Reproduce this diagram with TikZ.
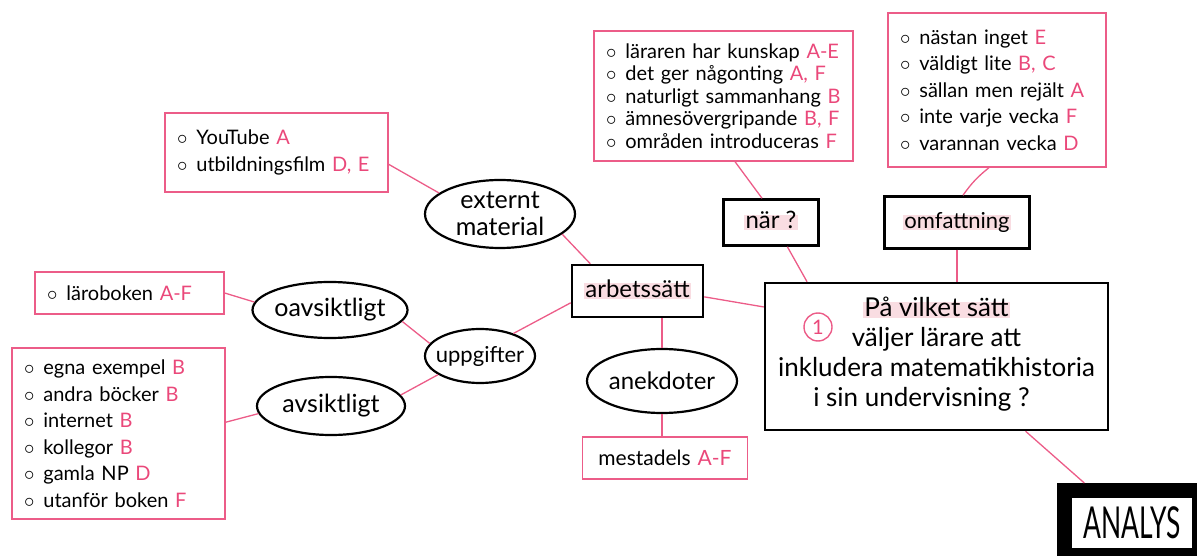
\documentclass[tikz,border=0pt]{standalone}
\usepackage{fontspec}
\setmainfont{Lato}
\usepackage{graphicx}
\usetikzlibrary{shapes.geometric}
\definecolor{linkpink}{RGB}{236,92,136}
\definecolor{markpink}{RGB}{234,72,122}
\definecolor{hlpink}{RGB}{249,221,226}
\newcommand{\mk}[1]{\textcolor{markpink}{#1}}
\newcommand{\itm}{$\circ$\hspace{0.45em}}
\newcommand{\hlmark}[1]{{\setlength{\fboxsep}{1.5pt}\colorbox{hlpink}{\smash{#1}\vphantom{x}}}}

\begin{document}
\begin{tikzpicture}[x=1pt,y=-1pt,
  listbox/.style={draw=linkpink, line width=1.3pt, align=left, inner xsep=12pt,
    font=\fontsize{20}{26.5}\selectfont},
  topic/.style={ellipse, draw, line width=2.2pt, align=center, inner xsep=-8pt,
    inner ysep=-4pt, font=\fontsize{25}{27}\selectfont},
  headbox/.style={draw, line width=2.5pt, font=\fontsize{24}{26}\selectfont},
  link/.style={linkpink, line width=1.3pt}]
\useasboundingbox (0,0) rectangle (1197,556);

\node[listbox, text width=199pt, minimum height=79pt] (yt) at (276.5,152.5)
  {\itm YouTube \mk{A}\\ \itm utbildningsfilm \mk{D, E}};
\node[listbox, text width=235pt, minimum height=130pt,
  font=\fontsize{20}{22.5}\selectfont] (kunskap) at (723.5,96)
  {\itm läraren har kunskap \mk{A-E}\\
   \itm det ger någonting \mk{A, F}\\
   \itm naturligt sammanhang \mk{B}\\
   \itm ämnesövergripande \mk{B, F}\\
   \itm områden introduceras \mk{F}};
\node[listbox, text width=194pt, minimum height=154pt] (omfang) at (997,90)
  {\itm nästan inget \mk{E}\\
   \itm väldigt lite \mk{B, C}\\
   \itm sällan men rejält \mk{A}\\
   \itm inte varje vecka \mk{F}\\
   \itm varannan vecka \mk{D}};
\node[listbox, text width=165pt, minimum height=42pt] (laro) at (129.5,293)
  {\itm läroboken \mk{A-F}};
\node[listbox, text width=189pt, minimum height=171pt] (kallor) at (118.5,433.5)
  {\itm egna exempel \mk{B}\\
   \itm andra böcker \mk{B}\\
   \itm internet \mk{B}\\
   \itm kollegor \mk{B}\\
   \itm gamla NP \mk{D}\\
   \itm utanför boken \mk{F}};
\node[listbox, align=center, text width=141pt, minimum height=42pt,
  font=\fontsize{21}{26}\selectfont] (mest) at (665,458) {mestadels \mk{A-F}};

\node[topic, minimum width=150pt, minimum height=68pt] (ext) at (500,214) {externt\\material};
\node[topic, minimum width=110pt, minimum height=54pt, font=\fontsize{22}{24}\selectfont] (uppg) at (480,356) {uppgifter};
\node[topic, minimum width=155pt, minimum height=56pt] (oavs) at (330,310) {oavsiktligt};
\node[topic, minimum width=148pt, minimum height=58pt] (avs) at (331,406) {avsiktligt};
\node[topic, minimum width=150pt, minimum height=64pt, font=\fontsize{24}{26}\selectfont] (anek) at (662,381) {anekdoter};

\node[headbox, minimum width=131pt, minimum height=52pt] (arb) at (637.5,291) {\hlmark{arbetssätt}};
\node[headbox, minimum width=95pt, minimum height=46pt] (nar) at (771,222.5) {\hlmark{när ?}};
\node[headbox, minimum width=145pt, minimum height=52pt, font=\fontsize{22}{26}\selectfont] (omf) at (957,222.5) {\hlmark{omfattning}};
\node[headbox, align=center, minimum width=343pt, minimum height=147pt,
  font=\fontsize{26}{30}\selectfont] (fraga) at (936.5,356.5)
  {\hlmark{På vilket sätt}\\väljer lärare att\\inkludera matematikhistoria\\i sin undervisning ?\hspace*{30pt}};
\node[circle, draw=linkpink, text=markpink, line width=1.4pt, minimum size=28pt,
  inner sep=0pt, font=\fontsize{20}{20}\selectfont] (nr) at (818,327) {1};
\node[draw, line width=15pt, fill=white, minimum width=135pt, minimum height=65pt,
  font=\fontsize{44}{44}\selectfont] (analys) at (1132,523) {\scalebox{0.6}[1]{ANALYS}};

\draw[link] (yt.-6) -- (ext.161);
\draw[link] (ext.-18) -- (arb.150);
\draw[link] (arb.-5) -- (fraga.164);
\draw[link] (arb.south -| anek.north) -- (anek.north);
\draw[link] (anek.south) -- (anek.south |- mest.north);
\draw[link] (arb.190) -- (uppg.34);
\draw[link] (uppg.166) -- (oavs.-9);
\draw[link] (uppg.204) -- (avs.9);
\draw[link] (oavs.174) -- (laro.east);
\draw[link] (avs.186) -- (kallor.6);
\draw[link] ([xshift=11.5pt]kunskap.south) -- ([xshift=-9pt]nar.north);
\draw[link] (nar.-56) -- (fraga.150);
\draw[link] ([xshift=-8pt]omfang.south) to[bend right=8] ([xshift=6pt]omf.north);
\draw[link] (omf.south) -- (omf.south |- fraga.north);
\draw[link] (fraga.-40) -- (analys.140);
\end{tikzpicture}
\end{document}
